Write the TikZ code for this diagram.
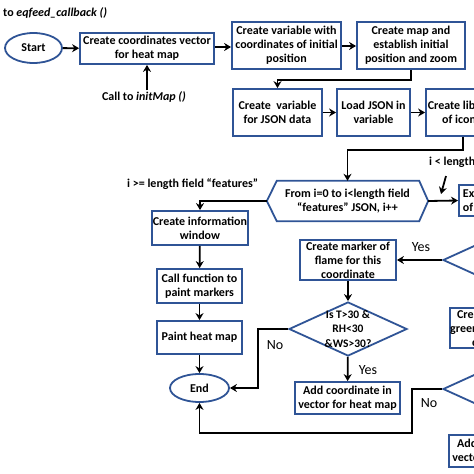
\documentclass[tikz,border=0pt]{standalone}
\usepackage{fontspec}
\setmainfont{Carlito}
\usetikzlibrary{arrows.meta,shapes.geometric}
\definecolor{bblue}{RGB}{47,84,150}
\begin{document}
\begin{tikzpicture}[x=1pt,y=-1pt,
  txt/.style={font=\bfseries\fontsize{12}{14}\selectfont,align=center,inner sep=0pt},
  box/.style={txt,draw=bblue,line width=1.8pt,fill=white},
  wh/.style 2 args={minimum width=#1pt,minimum height=#2pt},
  ell/.style={box,ellipse},
  dia/.style={draw=bblue,line width=1.8pt,diamond,inner sep=0pt,minimum width=118pt,minimum height=54pt},
  yn/.style={font=\fontsize{14}{16}\selectfont,inner sep=0pt},
  arr/.style={-{Stealth[length=7pt,width=8pt]},line width=1.8pt,black},
  ln/.style={line width=1.8pt,black}
]
\useasboundingbox (0,0) rectangle (474,474);
\clip (0,0) rectangle (474,474);

% labels
\node[txt,anchor=west] (cb) at (3,13) {to \textit{eqfeed\_callback ()}};
\node[txt,inner sep=1pt] (callinit) at (144,97) {Call to \textit{initMap ()}};

% top row
\node[ell,wh={57}{30}] (start) at (33.5,48) {Start};
\node[box,wh={134}{31}] (b1) at (147,48.5) {Create coordinates vector\\for heat map};
\node[box,wh={109}{47}] (b2) at (286.5,45.5) {Create variable with\\coordinates of initial\\position};
\node[box,wh={108}{47}] (b3) at (411,45.5) {Create map and\\establish initial\\position and zoom};

% second row
\node[box,wh={89}{47}] (b4) at (277.5,112.5) {Create\ \ variable\\for JSON data};
\node[box,wh={73}{47}] (b5) at (373.5,112.5) {Load JSON in\\variable};
\node[box,wh={71}{47}] (b6) at (461.5,112.5) {Create library\\of icons};

% loop hexagon
\node[txt,wh={161}{40}] (hex) at (347.5,201) {From i=0 to i<length field\\“features” JSON, i++};
\draw[bblue,line width=1.8pt] (hex.west) -- ([xshift=10pt]hex.north west) -- ([xshift=-9pt]hex.north east) -- (hex.east) -- ([xshift=-9pt]hex.south east) -- ([xshift=10pt]hex.south west) -- cycle;
\node[box,minimum height=31pt,anchor=west,text width=110pt,align=left,inner xsep=4pt] (b7) at (458,200.5) {Extract values\\of the feature};

\node[txt,anchor=west] (ige) at (127,184) {i >= length field “features”};
\node[txt,anchor=west] (ilt) at (429,162) {i < length field “features”};
\coordinate (ilttail) at (446,176);
\coordinate (ilttip) at (441,194);

% left column
\node[box,wh={96}{34}] (b8) at (200,228) {Create information\\window};
\node[box,wh={85}{34}] (b9) at (199.5,286) {Call function to\\paint markers};
\node[box,wh={85}{33}] (b10) at (199.5,337.5) {Paint heat map};
\node[ell,wh={59}{28}] (end) at (199.5,388) {End};

% middle column
\node[box,wh={96}{40}] (b11) at (348,260) {Create marker of\\flame for this\\coordinate};
\node[dia] (d1) at (348,329) {};
\node[txt,font=\bfseries\fontsize{11.5}{14.5}\selectfont] (d1t) at (d1) {Is T>30 \&\\RH<30\\\&WS>30?};
\node[box,wh={105}{32}] (b12) at (347.5,398) {Add coordinate in\\vector for heat map};

% right column (cut by the frame)
\node[dia] (dr1) at (502,260) {};
\node[box,wh={96}{40}] (b13) at (499,328) {Create marker of\\green flame for this\\coordinate};
\node[dia] (dr2) at (502,389) {};
\node[box,wh={105}{32}] (b14) at (501.5,451) {Add coordinate in\\vector for heat map};

% connectors
\draw[arr] (start) -- (b1);
\draw[arr] (b1.south |- callinit.north) -- (b1.south);
\draw[arr] (b1.east |- 0,47) -- (b2.west |- 0,47);
\draw[arr] (b2.east |- 0,46) -- (b3.west |- 0,46);
\draw[arr] (b3.south) -- ++(0,10) -| (b4.north);
\draw[arr] (b4) -- (b5);
\draw[arr] (b5) -- (b6);
\draw[arr] ([xshift=1.5pt]b6.south) -- ++(0,13) -| (hex.north);
\draw[arr] (hex.east) -- (b7.west);
\draw[arr] (ilttail) -- (ilttip);
\draw[arr] (hex.west) -| (b8.north);
\draw[arr] (b8) -- (b9);
\draw[arr] (b9) -- (b10);
\draw[arr] (b10) -- (end);
\draw[arr] (dr1.west) -- (b11.east |- dr1.west);
\draw[arr] (b11) -- (d1);
\draw[arr] (d1) -- (b12);
\coordinate (nob1) at (258,329);
\draw[arr] (d1.west) -- (nob1) |- (end.east);
\coordinate (nob2) at (412,389);
\coordinate (nob3) at (412,433);
\draw[arr] (dr2.west) -- (nob2) -- (nob3) -| (end.south);

% yes / no
\node[yn] (y1) at (421,247) {Yes};
\node[yn] (y2) at (368,370) {Yes};
\node[yn] (n1) at (275,345) {No};
\node[yn] (n2) at (429,403) {No};
\end{tikzpicture}
\end{document}
